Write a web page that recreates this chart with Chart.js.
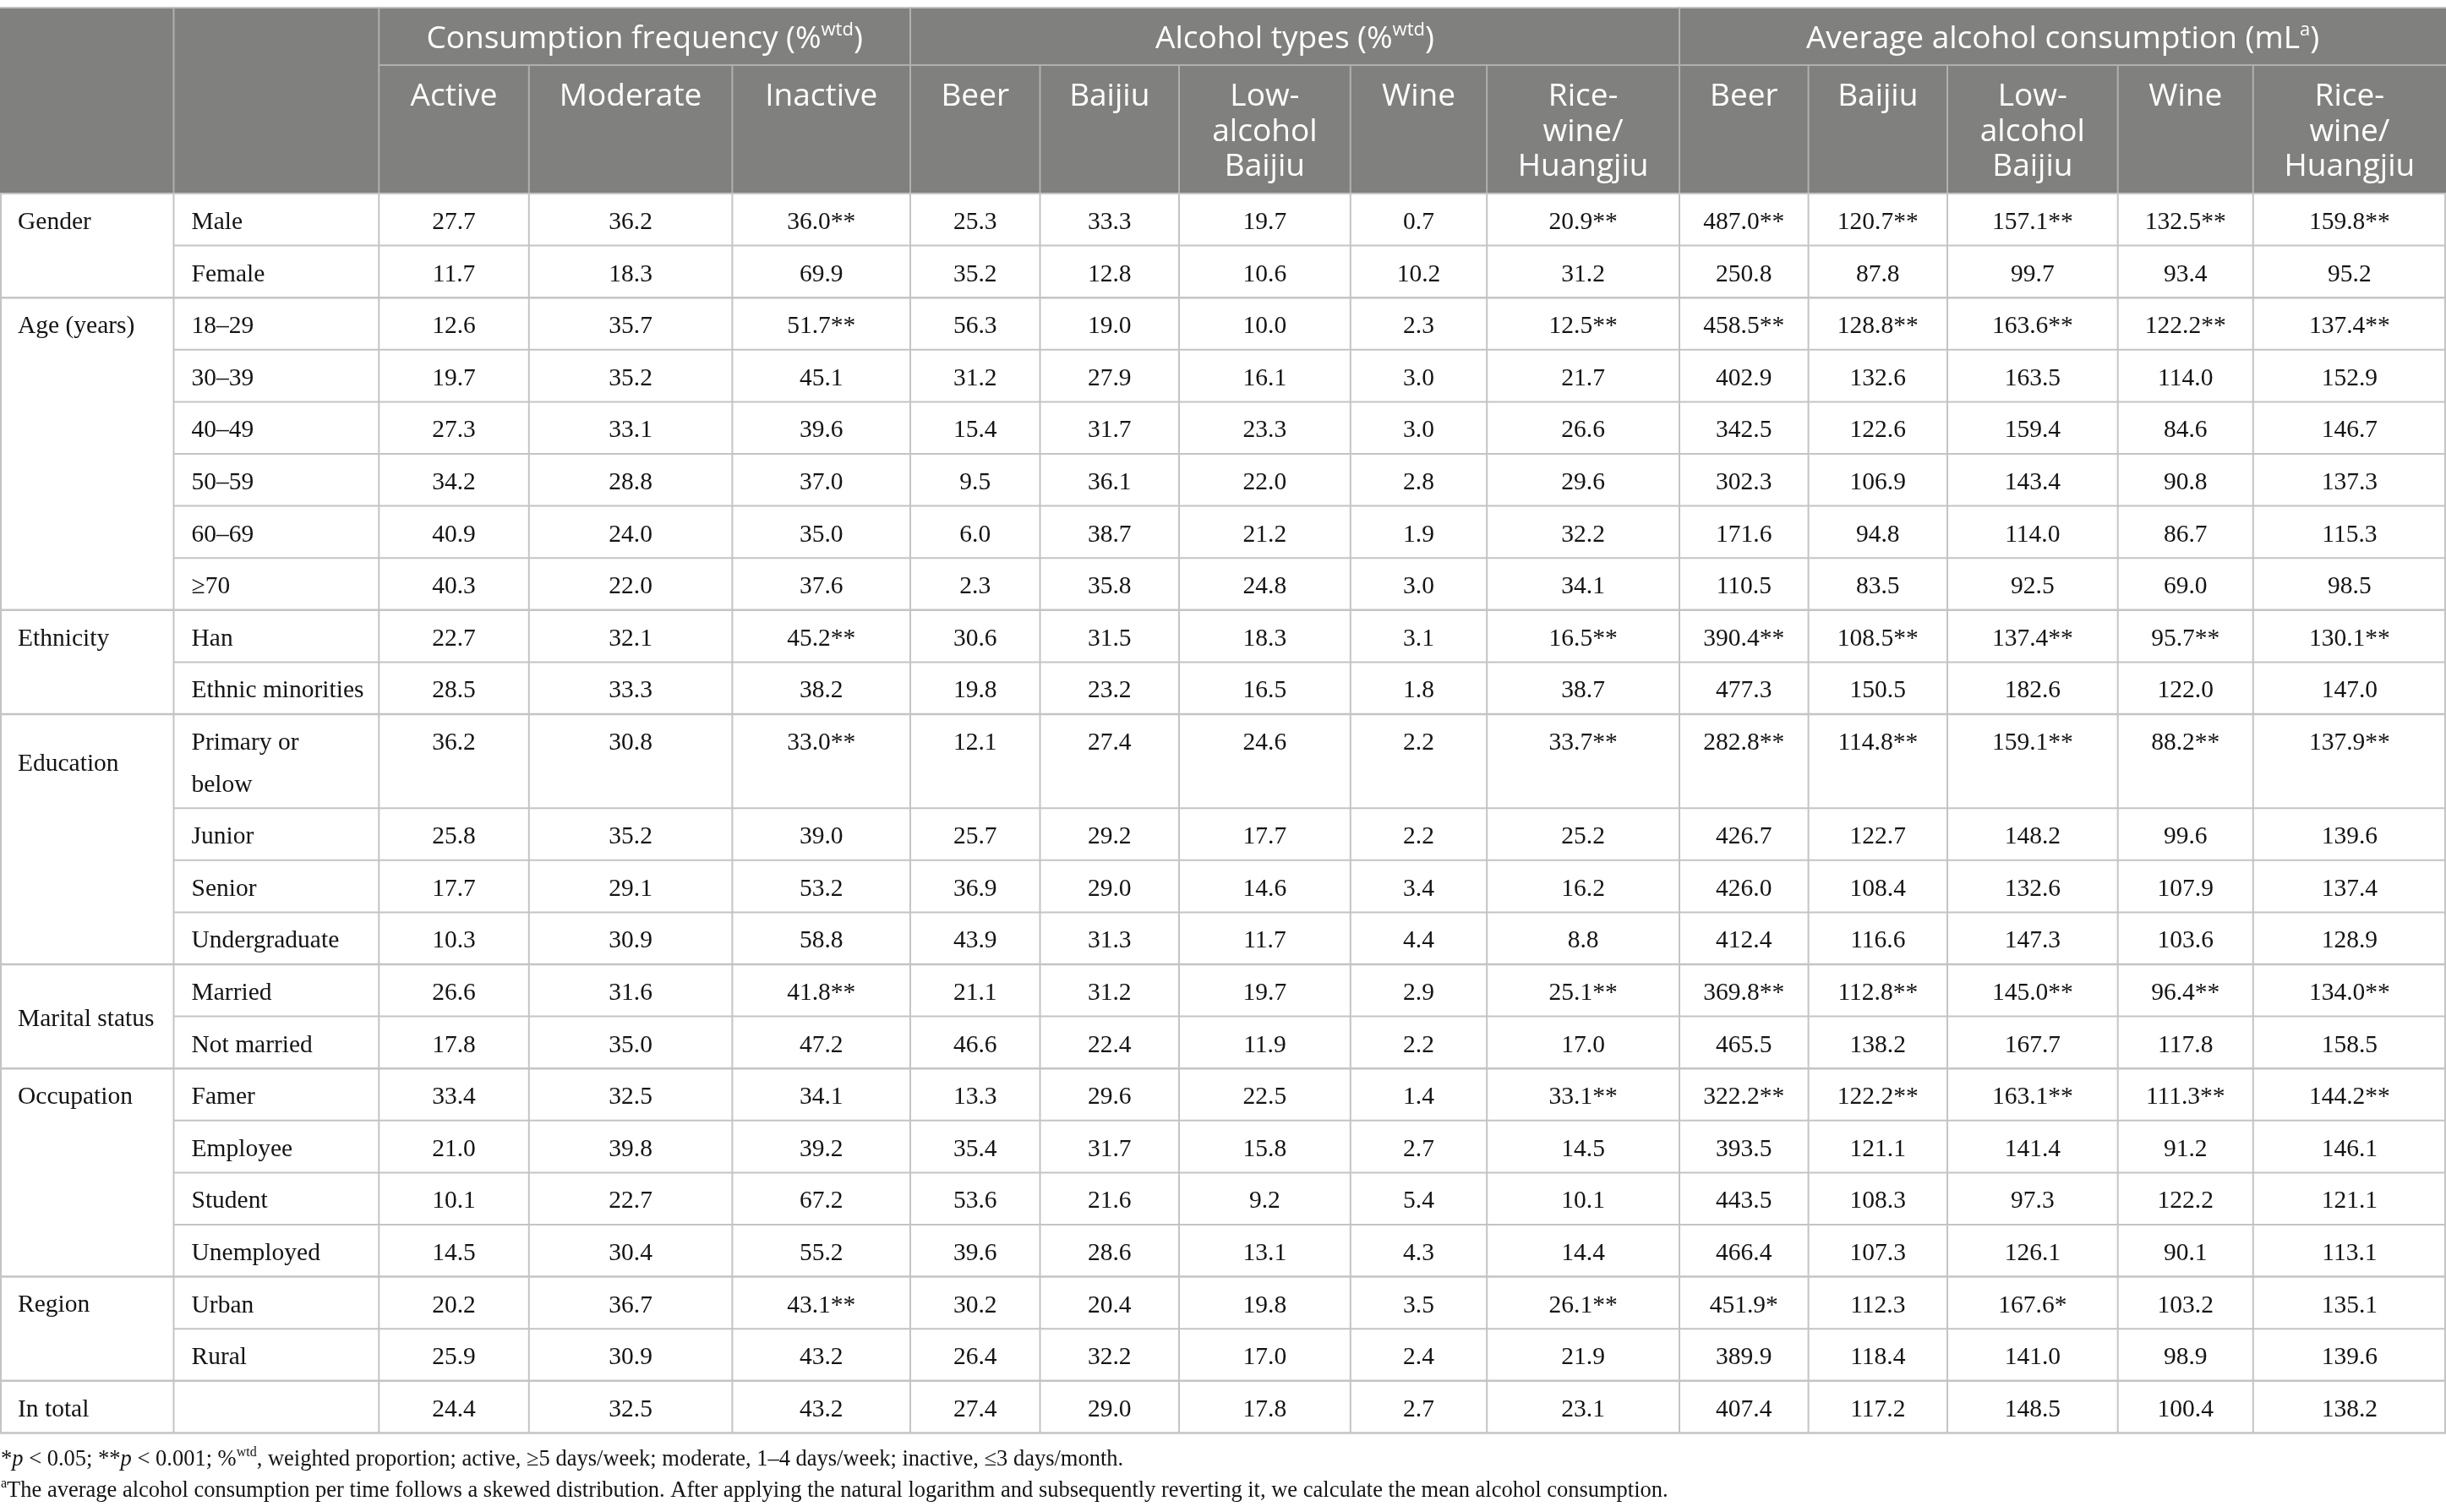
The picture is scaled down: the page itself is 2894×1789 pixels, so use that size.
<!DOCTYPE html>
<html>
<head>
<meta charset="utf-8">
<script src="https://cdn.jsdelivr.net/npm/chart.js@4.4.1/dist/chart.umd.min.js"></script>
<style>
  html, body { margin: 0; padding: 0; background: #ffffff; }
  #wrap { width: 2894px; height: 1789px; position: relative; }
  canvas { display: block; }
</style>
</head>
<body>
<div id="wrap"><canvas id="c" width="2894" height="1789"></canvas></div>
<script>
// ===================== DATA =====================
const groupLabels = ["Gender", "Age (years)", "Ethnicity", "Education", "Marital status", "Occupation", "Region", "In total"];
const subgroupLabels = [
  ["Male", "Female"],
  ["18\u201329", "30\u201339", "40\u201349", "50\u201359", "60\u201369", "\u226570"],
  ["Han", "Ethnic minorities"],
  ["Primary or\nbelow", "Junior", "Senior", "Undergraduate"],
  ["Married", "Not married"],
  ["Famer", "Employee", "Student", "Unemployed"],
  ["Urban", "Rural"],
  [""]
];
const headerGroupLabels = ["Consumption frequency (%^wtd^)", "Alcohol types (%^wtd^)", "Average alcohol consumption (mL^a^)"];
const frequencyColumns = ["Active", "Moderate", "Inactive"];
const typeColumns = ["Beer", "Baijiu", "Low-\nalcohol\nBaijiu", "Wine", "Rice-\nwine/\nHuangjiu"];
const amountColumns = ["Beer", "Baijiu", "Low-\nalcohol\nBaijiu", "Wine", "Rice-\nwine/\nHuangjiu"];

const freqActive   = [27.7, 11.7, 12.6, 19.7, 27.3, 34.2, 40.9, 40.3, 22.7, 28.5, 36.2, 25.8, 17.7, 10.3, 26.6, 17.8, 33.4, 21.0, 10.1, 14.5, 20.2, 25.9, 24.4];
const freqModerate = [36.2, 18.3, 35.7, 35.2, 33.1, 28.8, 24.0, 22.0, 32.1, 33.3, 30.8, 35.2, 29.1, 30.9, 31.6, 35.0, 32.5, 39.8, 22.7, 30.4, 36.7, 30.9, 32.5];
const freqInactive = [36.0, 69.9, 51.7, 45.1, 39.6, 37.0, 35.0, 37.6, 45.2, 38.2, 33.0, 39.0, 53.2, 58.8, 41.8, 47.2, 34.1, 39.2, 67.2, 55.2, 43.1, 43.2, 43.2];
const typeBeer      = [25.3, 35.2, 56.3, 31.2, 15.4, 9.5, 6.0, 2.3, 30.6, 19.8, 12.1, 25.7, 36.9, 43.9, 21.1, 46.6, 13.3, 35.4, 53.6, 39.6, 30.2, 26.4, 27.4];
const typeBaijiu    = [33.3, 12.8, 19.0, 27.9, 31.7, 36.1, 38.7, 35.8, 31.5, 23.2, 27.4, 29.2, 29.0, 31.3, 31.2, 22.4, 29.6, 31.7, 21.6, 28.6, 20.4, 32.2, 29.0];
const typeLowBaijiu = [19.7, 10.6, 10.0, 16.1, 23.3, 22.0, 21.2, 24.8, 18.3, 16.5, 24.6, 17.7, 14.6, 11.7, 19.7, 11.9, 22.5, 15.8, 9.2, 13.1, 19.8, 17.0, 17.8];
const typeWine      = [0.7, 10.2, 2.3, 3.0, 3.0, 2.8, 1.9, 3.0, 3.1, 1.8, 2.2, 2.2, 3.4, 4.4, 2.9, 2.2, 1.4, 2.7, 5.4, 4.3, 3.5, 2.4, 2.7];
const typeRiceWine  = [20.9, 31.2, 12.5, 21.7, 26.6, 29.6, 32.2, 34.1, 16.5, 38.7, 33.7, 25.2, 16.2, 8.8, 25.1, 17.0, 33.1, 14.5, 10.1, 14.4, 26.1, 21.9, 23.1];
const mlBeer      = [487.0, 250.8, 458.5, 402.9, 342.5, 302.3, 171.6, 110.5, 390.4, 477.3, 282.8, 426.7, 426.0, 412.4, 369.8, 465.5, 322.2, 393.5, 443.5, 466.4, 451.9, 389.9, 407.4];
const mlBaijiu    = [120.7, 87.8, 128.8, 132.6, 122.6, 106.9, 94.8, 83.5, 108.5, 150.5, 114.8, 122.7, 108.4, 116.6, 112.8, 138.2, 122.2, 121.1, 108.3, 107.3, 112.3, 118.4, 117.2];
const mlLowBaijiu = [157.1, 99.7, 163.6, 163.5, 159.4, 143.4, 114.0, 92.5, 137.4, 182.6, 159.1, 148.2, 132.6, 147.3, 145.0, 167.7, 163.1, 141.4, 97.3, 126.1, 167.6, 141.0, 148.5];
const mlWine      = [132.5, 93.4, 122.2, 114.0, 84.6, 90.8, 86.7, 69.0, 95.7, 122.0, 88.2, 99.6, 107.9, 103.6, 96.4, 117.8, 111.3, 91.2, 122.2, 90.1, 103.2, 98.9, 100.4];
const mlRiceWine  = [159.8, 95.2, 137.4, 152.9, 146.7, 137.3, 115.3, 98.5, 130.1, 147.0, 137.9, 139.6, 137.4, 128.9, 134.0, 158.5, 144.2, 146.1, 121.1, 113.1, 135.1, 139.6, 138.2];

// significance markers (row index -> marker)
const sigInactive   = {0: "**", 2: "**", 8: "**", 10: "**", 14: "**", 20: "**"};
const sigRiceWine   = {0: "**", 2: "**", 8: "**", 10: "**", 14: "**", 16: "**", 20: "**"};
const sigMlBeer     = {0: "**", 2: "**", 8: "**", 10: "**", 14: "**", 16: "**", 20: "*"};
const sigMlBaijiu   = {0: "**", 2: "**", 8: "**", 10: "**", 14: "**", 16: "**"};
const sigMlLow      = {0: "**", 2: "**", 8: "**", 10: "**", 14: "**", 16: "**", 20: "*"};
const sigMlWine     = {0: "**", 2: "**", 8: "**", 10: "**", 14: "**", 16: "**"};
const sigMlRice     = {0: "**", 2: "**", 8: "**", 10: "**", 14: "**", 16: "**"};
const sigNone = {};

const footnoteLines = [
  "*_p_ < 0.05; **_p_ < 0.001; %^wtd^, weighted proportion; active, \u22655 days/week; moderate, 1\u20134 days/week; inactive, \u22643 days/month.",
  "^a^The average alcohol consumption per time follows a skewed distribution. After applying the natural logarithm and subsequently reverting it, we calculate the mean alcohol consumption."
];

// ===================== LAYOUT / STYLE =====================
const W = 2894, H = 1789;
const colEdges = [0, 205.5, 448.3, 625.8, 866.4, 1077, 1230.5, 1395, 1597.8, 1759.2, 1987, 2139.6, 2304, 2505.7, 2665.8, 2894];
const TABLE_TOP = 9, HEAD1_BOTTOM = 77, HEAD_BOTTOM = 229;
const ROW_H = 61.6, EXTRA_LINE = 49.6, BASE_OFF = 42;
const HEAD_LINE = 41.5;
const HEADER_BG = "rgb(128,129,127)";
const HEADER_LINE = "rgb(176,177,175)";
const GRID = "rgb(196,196,196)";
const TEXT = "#141414";
const SANS = '"Open Sans", "Noto Sans", sans-serif';
const SERIF = '"Liberation Serif", "Times New Roman", serif';
const HEAD_SIZE = 37, BODY_SIZE = 29.5, FOOT_SIZE = 26.5;
const groupVAlign = {"Marital status": "middle"};

// rows
const rows = [];
subgroupLabels.forEach((subs, g) => subs.forEach((s, k) => rows.push({label: s, g, k})));
let yCursor = HEAD_BOTTOM;
rows.forEach(r => {
  r.lines = r.label.split("\n").length;
  r.top = yCursor;
  r.h = ROW_H + (r.lines - 1) * EXTRA_LINE;
  yCursor += r.h;
});
const TABLE_BOTTOM = yCursor;

const columnSeries = [
  {values: freqActive, sig: sigNone}, {values: freqModerate, sig: sigNone}, {values: freqInactive, sig: sigInactive},
  {values: typeBeer, sig: sigNone}, {values: typeBaijiu, sig: sigNone}, {values: typeLowBaijiu, sig: sigNone},
  {values: typeWine, sig: sigNone}, {values: typeRiceWine, sig: sigRiceWine},
  {values: mlBeer, sig: sigMlBeer}, {values: mlBaijiu, sig: sigMlBaijiu}, {values: mlLowBaijiu, sig: sigMlLow},
  {values: mlWine, sig: sigMlWine}, {values: mlRiceWine, sig: sigMlRice}
];
const columnNames = [...frequencyColumns, ...typeColumns, ...amountColumns];

const datasets = columnSeries.map((c, j) => ({
  label: columnNames[j].replace(/\n/g, " "),
  data: c.values.map((v, i) => ({
    x: (colEdges[j + 2] + colEdges[j + 3]) / 2,
    y: rows[i].top + BASE_OFF,
    v: v,
    sig: c.sig[i] || ""
  })),
  pointRadius: 0,
  pointHoverRadius: 0,
  showLine: false
}));

// ===================== HELPERS =====================
function parseRich(s) {
  const segs = []; let cur = "", sup = false, it = false;
  for (const ch of s) {
    if (ch === "^") { if (cur) segs.push({t: cur, sup, it}); cur = ""; sup = !sup; }
    else if (ch === "_") { if (cur) segs.push({t: cur, sup, it}); cur = ""; it = !it; }
    else cur += ch;
  }
  if (cur) segs.push({t: cur, sup, it});
  return segs;
}
function drawRich(ctx, s, x, y, align, size, family) {
  const segs = parseRich(s);
  const fontFor = sg => `${sg.it ? "italic " : ""}normal ${sg.sup ? Math.round(size * 0.6) : size}px ${family}`;
  let w = 0;
  segs.forEach(sg => { ctx.font = fontFor(sg); sg.w = ctx.measureText(sg.t).width; w += sg.w; });
  let cx = align === "center" ? x - w / 2 : (align === "right" ? x - w : x);
  ctx.textAlign = "left";
  ctx.textBaseline = "alphabetic";
  segs.forEach(sg => {
    ctx.font = fontFor(sg);
    ctx.fillText(sg.t, cx, sg.sup ? y - size * 0.4 : y);
    cx += sg.w;
  });
}
function line(ctx, x1, y1, x2, y2, color, w) {
  ctx.strokeStyle = color; ctx.lineWidth = w;
  ctx.beginPath(); ctx.moveTo(x1, y1); ctx.lineTo(x2, y2); ctx.stroke();
}

// ===================== PLUGIN =====================
const tablePlugin = {
  id: "tablePlugin",
  beforeDatasetsDraw(chart) {
    const ctx = chart.ctx;
    const xs = chart.scales.x, ys = chart.scales.y;
    const X = v => xs.getPixelForValue(v);
    const Y = v => ys.getPixelForValue(v);
    ctx.save();
    ctx.fillStyle = "#ffffff";
    ctx.fillRect(0, 0, chart.width, chart.height);

    // header background
    ctx.fillStyle = HEADER_BG;
    ctx.fillRect(X(0), Y(TABLE_TOP), X(W) - X(0), Y(HEAD_BOTTOM) - Y(TABLE_TOP));
    // top border
    line(ctx, X(0), Y(TABLE_TOP), X(W), Y(TABLE_TOP), GRID, 2);
    // header inner lines
    line(ctx, X(colEdges[2]), Y(HEAD1_BOTTOM), X(W), Y(HEAD1_BOTTOM), HEADER_LINE, 2);
    const fullHeader = [1, 2, 5, 10];
    for (let e = 1; e < colEdges.length - 1; e++) {
      const y0 = fullHeader.includes(e) ? TABLE_TOP : HEAD1_BOTTOM;
      line(ctx, X(colEdges[e]), Y(y0), X(colEdges[e]), Y(HEAD_BOTTOM), HEADER_LINE, 2);
    }

    // header texts
    ctx.fillStyle = "#ffffff";
    const groupSpans = [[2, 5], [5, 10], [10, 15]];
    headerGroupLabels.forEach((lab, gi) => {
      const [a, b] = groupSpans[gi];
      drawRich(ctx, lab, (X(colEdges[a]) + X(colEdges[b])) / 2, Y(57), "center", HEAD_SIZE, SANS);
    });
    columnNames.forEach((lab, j) => {
      const cx = (X(colEdges[j + 2]) + X(colEdges[j + 3])) / 2;
      lab.split("\n").forEach((ln, li) => {
        drawRich(ctx, ln, cx, Y(125 + li * HEAD_LINE), "center", HEAD_SIZE, SANS);
      });
    });

    // body grid: horizontal lines
    for (let i = 0; i < rows.length; i++) {
      const r = rows[i];
      const bottom = r.top + r.h;
      const isGroupEnd = (i === rows.length - 1) || rows[i + 1].g !== r.g;
      line(ctx, X(isGroupEnd ? 0 : colEdges[1]), Y(bottom), X(W), Y(bottom), GRID, isGroupEnd ? 2.5 : 2);
    }
    line(ctx, X(0), Y(HEAD_BOTTOM), X(W), Y(HEAD_BOTTOM), GRID, 2);
    // vertical lines
    for (let e = 0; e < colEdges.length; e++) {
      let xv = X(colEdges[e]);
      if (e === 0) xv += 1;
      if (e === colEdges.length - 1) xv -= 1;
      line(ctx, xv, Y(HEAD_BOTTOM), xv, Y(TABLE_BOTTOM), GRID, 2);
    }

    // row labels
    ctx.fillStyle = TEXT;
    rows.forEach(r => {
      r.label.split("\n").forEach((ln, li) => {
        if (ln) drawRich(ctx, ln, X(colEdges[1]) + 21, Y(r.top + BASE_OFF + li * EXTRA_LINE), "left", BODY_SIZE, SERIF);
      });
    });
    // group labels
    groupLabels.forEach((gl, g) => {
      const grows = rows.filter(r => r.g === g);
      let yb;
      if (groupVAlign[gl] === "middle") {
        const top = grows[0].top, bot = grows[grows.length - 1].top + grows[grows.length - 1].h;
        yb = (top + bot) / 2 + 11;
      } else {
        yb = grows[0].top + grows[0].h / 2 + 11;
      }
      drawRich(ctx, gl, X(0) + 21, Y(yb), "left", BODY_SIZE, SERIF);
    });

    // footnotes
    footnoteLines.forEach((fl, li) => {
      drawRich(ctx, fl, X(0) + 1, Y(1734 + li * 37), "left", FOOT_SIZE, SERIF);
    });
    ctx.restore();
  },
  afterDatasetsDraw(chart) {
    const ctx = chart.ctx;
    ctx.save();
    ctx.fillStyle = TEXT;
    chart.data.datasets.forEach((ds, di) => {
      const meta = chart.getDatasetMeta(di);
      meta.data.forEach((el, k) => {
        const p = ds.data[k];
        drawRich(ctx, p.v.toFixed(1) + p.sig, el.x, el.y, "center", BODY_SIZE, SERIF);
      });
    });
    ctx.restore();
  }
};

function makeChart() {
  const ctx = document.getElementById("c").getContext("2d");
  new Chart(ctx, {
    type: "scatter",
    data: { datasets },
    options: {
      responsive: false,
      maintainAspectRatio: false,
      animation: false,
      devicePixelRatio: 1,
      layout: { padding: 0 },
      events: [],
      plugins: { legend: { display: false }, tooltip: { enabled: false }, title: { display: false } },
      scales: {
        x: { type: "linear", min: 0, max: W, display: false },
        y: { type: "linear", min: 0, max: H, reverse: true, display: false }
      }
    },
    plugins: [tablePlugin]
  });
}

const fontLoads = [
  `${HEAD_SIZE}px "Open Sans"`, `${BODY_SIZE}px "Liberation Serif"`, `italic ${BODY_SIZE}px "Liberation Serif"`
].map(f => (document.fonts && document.fonts.load) ? document.fonts.load(f).catch(() => null) : Promise.resolve());
Promise.all(fontLoads).then(makeChart, makeChart);
</script>
</body>
</html>
